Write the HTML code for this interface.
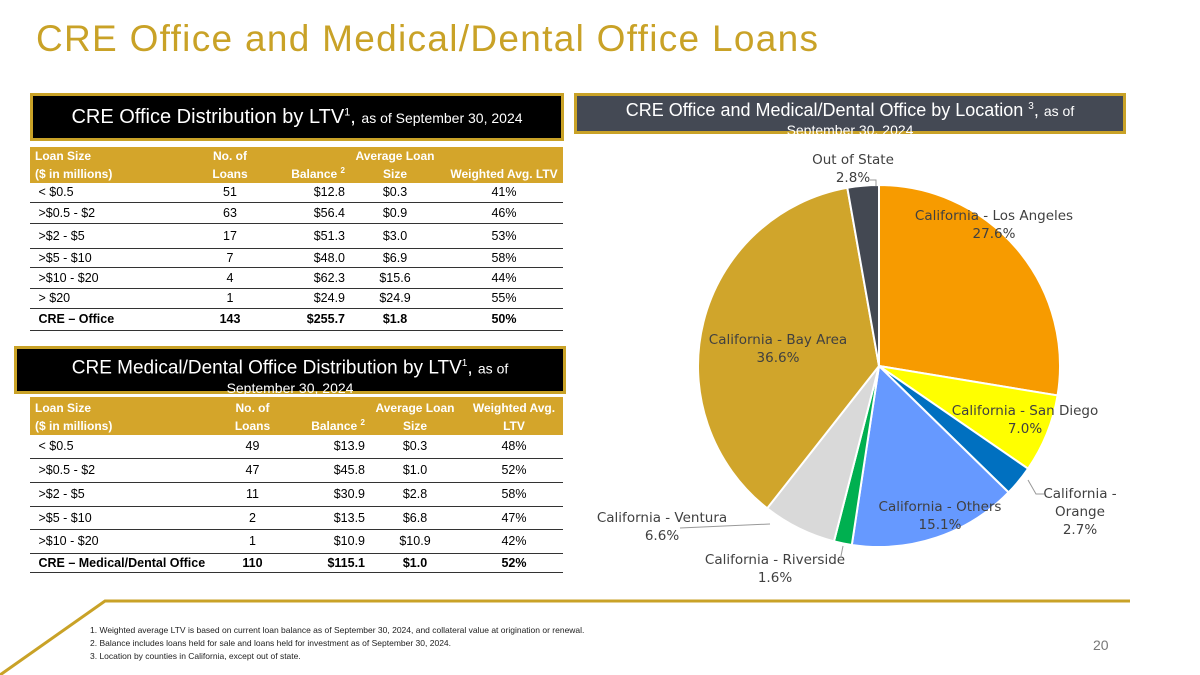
<!DOCTYPE html>
<html><head><meta charset="utf-8"><style>
body{margin:0;width:1200px;height:675px;background:#fff;position:relative;overflow:hidden;font-family:"Liberation Sans",sans-serif}
.abs{position:absolute}
h1{position:absolute;left:36px;top:18px;margin:0;font-weight:normal;font-size:37px;color:#C9A227;letter-spacing:1.3px}
.hbox{position:absolute;background:#000;border:3px solid #C9A227;color:#fff;text-align:center;box-sizing:border-box}
table{position:absolute;border-collapse:collapse;font-size:12.5px;color:#000}
th{background:#D4A52A;color:#fff;font-weight:bold;font-size:12px;padding:0;line-height:18px;vertical-align:bottom}
td{padding:0 0;border-bottom:1.5px solid #333;}
.l{text-align:left;padding-left:5px}.c{text-align:center}.r{text-align:right}
.tot td{font-weight:bold}
.fn{position:absolute;left:90px;font-size:8.5px;color:#222}
</style></head><body>
<h1>CRE Office and Medical/Dental Office Loans</h1>

<div class="hbox" style="left:30px;top:93px;width:534px;height:48px;padding-top:10px;font-size:20px">CRE Office Distribution by LTV<sup style="font-size:11px">1</sup>, <span style="font-size:14px">as of September 30, 2024</span></div>

<table style="left:30px;top:147px;width:533px">
<tr style="height:36px"><th class="l" style="width:150px">Loan Size<br>($ in millions)</th><th class="c" style="width:90px">No. of<br>Loans</th><th class="r" style="width:70px">Balance <sup style="font-size:8px">2</sup></th><th class="c" style="width:100px">Average Loan<br>Size</th><th class="c">Weighted Avg. LTV</th></tr>
<tr style="height:19px"><td class="l">&nbsp;&lt; $0.5</td><td class="c">51</td><td class="r">$12.8</td><td class="c">$0.3</td><td class="c">41%</td></tr>
<tr style="height:21px"><td class="l">&nbsp;&gt;$0.5 - $2</td><td class="c">63</td><td class="r">$56.4</td><td class="c">$0.9</td><td class="c">46%</td></tr>
<tr style="height:25px"><td class="l">&nbsp;&gt;$2 - $5</td><td class="c">17</td><td class="r">$51.3</td><td class="c">$3.0</td><td class="c">53%</td></tr>
<tr style="height:19px"><td class="l">&nbsp;&gt;$5 - $10</td><td class="c">7</td><td class="r">$48.0</td><td class="c">$6.9</td><td class="c">58%</td></tr>
<tr style="height:21px"><td class="l">&nbsp;&gt;$10 - $20</td><td class="c">4</td><td class="r">$62.3</td><td class="c">$15.6</td><td class="c">44%</td></tr>
<tr style="height:20px"><td class="l">&nbsp;&gt; $20</td><td class="c">1</td><td class="r">$24.9</td><td class="c">$24.9</td><td class="c">55%</td></tr>
<tr class="tot" style="height:22px"><td class="l">&nbsp;CRE – Office</td><td class="c">143</td><td class="r">$255.7</td><td class="c">$1.8</td><td class="c">50%</td></tr>
</table>

<div class="hbox" style="left:14px;top:346px;width:552px;height:48px;padding-top:5px;font-size:19px;line-height:19px">CRE Medical/Dental Office Distribution by LTV<sup style="font-size:10px">1</sup>, <span style="font-size:14px">as of</span><br><span style="font-size:14px;line-height:16px">September 30, 2024</span></div>

<table style="left:30px;top:397px;width:533px">
<tr style="height:38px"><th class="l" style="width:185px">Loan Size<br>($ in millions)</th><th class="c" style="width:65px">No. of<br>Loans</th><th class="r" style="width:80px">Balance <sup style="font-size:8px">2</sup></th><th class="c" style="width:100px">Average Loan<br>Size</th><th class="c">Weighted Avg.<br>LTV</th></tr>
<tr style="height:23px"><td class="l">&nbsp;&lt; $0.5</td><td class="c">49</td><td class="r">$13.9</td><td class="c">$0.3</td><td class="c">48%</td></tr>
<tr style="height:24px"><td class="l">&nbsp;&gt;$0.5 - $2</td><td class="c">47</td><td class="r">$45.8</td><td class="c">$1.0</td><td class="c">52%</td></tr>
<tr style="height:24px"><td class="l">&nbsp;&gt;$2 - $5</td><td class="c">11</td><td class="r">$30.9</td><td class="c">$2.8</td><td class="c">58%</td></tr>
<tr style="height:23px"><td class="l">&nbsp;&gt;$5 - $10</td><td class="c">2</td><td class="r">$13.5</td><td class="c">$6.8</td><td class="c">47%</td></tr>
<tr style="height:24px"><td class="l">&nbsp;&gt;$10 - $20</td><td class="c">1</td><td class="r">$10.9</td><td class="c">$10.9</td><td class="c">42%</td></tr>
<tr class="tot" style="height:19px"><td class="l">&nbsp;CRE – Medical/Dental Office</td><td class="c">110</td><td class="r">$115.1</td><td class="c">$1.0</td><td class="c">52%</td></tr>
</table>

<div class="hbox" style="left:574px;top:93px;width:552px;height:41px;background:#444954;padding-top:2px;font-size:18px;line-height:18px">CRE Office and Medical/Dental Office by Location <sup style="font-size:10px">3</sup>, <span style="font-size:14px">as of</span><br><span style="font-size:14px;line-height:15px">September 30, 2024</span></div>

<svg id="pie" class="abs" style="left:0;top:0" width="1200" height="675"></svg>

<svg class="abs" style="left:0;top:0" width="1200" height="675">
<polyline points="0,675 105,601 1130,601" fill="none" stroke="#C9A227" stroke-width="3"/>
</svg>
<div class="fn" style="top:625px">1. Weighted average LTV is based on current loan balance as of September 30, 2024, and collateral value at origination or renewal.</div>
<div class="fn" style="top:638px">2. Balance includes loans held for sale and loans held for investment as of September 30, 2024.</div>
<div class="fn" style="top:651px">3. Location by counties in California, except out of state.</div>
<div class="abs" style="left:1093px;top:637px;font-size:14px;color:#777">20</div>

<script>
const categories = ["California - Los Angeles","California - San Diego","California - Orange","California - Others","California - Riverside","California - Ventura","California - Bay Area","Out of State"];
const values = [27.6,7.0,2.7,15.1,1.6,6.6,36.6,2.8];
const colors = ["#F79B00","#FFFF00","#0070C0","#6699FF","#00B050","#D9D9D9","#D0A52B","#434852"];
const labelLines = [["California - Los Angeles","27.6%"],["California - San Diego","7.0%"],["California -","Orange","2.7%"],["California - Others","15.1%"],["California - Riverside","1.6%"],["California - Ventura","6.6%"],["California - Bay Area","36.6%"],["Out of State","2.8%"]];
const labelPos = [[994,220],[1025,415],[1080,498],[940,511],[775,564],[662,522],[778,344],[853,164]];
const NS="http://www.w3.org/2000/svg";
const svg=document.getElementById('pie');
const cx=879, cy=366, R=181;
const total=values.reduce((a,b)=>a+b,0);
function pt(f){const a=f*2*Math.PI-Math.PI/2;return [cx+R*Math.cos(a),cy+R*Math.sin(a)];}
let acc=0;
values.forEach((v,i)=>{
  const s=pt(acc/total); acc+=v; const e=pt(acc/total);
  const large=v/total>0.5?1:0;
  const p=document.createElementNS(NS,'path');
  p.setAttribute('d',`M${cx},${cy} L${s[0]},${s[1]} A${R},${R} 0 ${large} 1 ${e[0]},${e[1]} Z`);
  p.setAttribute('fill',colors[i]);p.setAttribute('stroke','#fff');p.setAttribute('stroke-width','2');
  
  
  svg.appendChild(p);
});
[["M870,180 L876,180 L876,186"],["M1028,480 L1036,494 L1044,494"],["M680,528 L770,524"],["M843,546 L841,556"]].forEach(d=>{
  const l=document.createElementNS(NS,'path');l.setAttribute('d',d[0]);l.setAttribute('stroke','#999');l.setAttribute('fill','none');
  
  
  svg.appendChild(l);
});
labelLines.forEach((lines,i)=>{
  const t=document.createElementNS(NS,'text');
  t.setAttribute('x',labelPos[i][0]);t.setAttribute('y',labelPos[i][1]);
  t.setAttribute('text-anchor','middle');t.setAttribute('font-size','13.5');t.setAttribute('fill','#404040');
  t.setAttribute('font-family','"DejaVu Sans","Liberation Sans",sans-serif');
  
  
  lines.forEach((ln,j)=>{const s=document.createElementNS(NS,'tspan');s.setAttribute('x',labelPos[i][0]);s.setAttribute('dy',j?18:0);s.textContent=ln;t.appendChild(s);});
  svg.appendChild(t);
});
</script>
</body></html>
